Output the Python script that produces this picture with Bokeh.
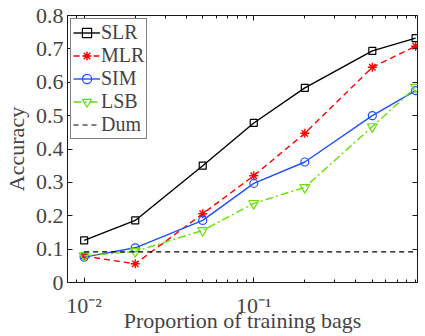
from bokeh.plotting import figure
from bokeh.models import (Range1d, LogAxis, LinearAxis, LogTicker, FixedTicker,
                          CustomJSTickFormatter, Legend)
from bokeh.embed import file_html
from bokeh.resources import INLINE

# ---- data ----
proportions = [0.01, 0.02, 0.05, 0.1, 0.2, 0.5, 0.9]
slr = [0.126, 0.186, 0.350, 0.478, 0.583, 0.694, 0.732]
mlr = [0.079, 0.056, 0.206, 0.320, 0.447, 0.645, 0.708]
sim = [0.076, 0.104, 0.186, 0.297, 0.361, 0.500, 0.575]
lsb = [0.080, 0.093, 0.156, 0.237, 0.285, 0.467, 0.585]
dum = [0.092, 0.092, 0.092, 0.092, 0.092, 0.092, 0.092]
y_ticks = [0, 0.1, 0.2, 0.3, 0.4, 0.5, 0.6, 0.7, 0.8]
x_label = "Proportion of training bags"
y_label = "Accuracy"

FONT = "Liberation Serif"
FS = "22px"

p = figure(width=425, height=336, x_axis_type="log",
           x_range=Range1d(0.007975, 0.9232), y_range=Range1d(0, 0.8),
           output_backend="svg", toolbar_location=None,
           min_border_left=60, min_border_right=8, min_border_top=15,
           min_border_bottom=54)
p.grid.visible = False
p.outline_line_color = "#1a1a1a"
p.outline_line_width = 1
p.background_fill_color = "white"
p.border_fill_color = "white"

xfmt = CustomJSTickFormatter(code="""
const e = Math.round(Math.log10(tick));
const sup = {"-": "\u207b", "0": "\u2070", "1": "\u00b9", "2": "\u00b2", "3": "\u00b3",
             "4": "\u2074", "5": "\u2075", "6": "\u2076", "7": "\u2077", "8": "\u2078", "9": "\u2079"};
return "10" + String(e).split("").map(c => sup[c]).join("");
""")
yfmt = CustomJSTickFormatter(code="return tick === 0 ? '0' : tick.toFixed(1);")
empty = CustomJSTickFormatter(code="return '';")

xticker = LogTicker(num_minor_ticks=10)
yticker = FixedTicker(ticks=y_ticks)

def style(ax):
    ax.axis_line_color = None
    ax.major_tick_in = 5
    ax.major_tick_out = 0
    ax.minor_tick_in = 3
    ax.minor_tick_out = 0
    ax.major_tick_line_color = "#1a1a1a"
    ax.minor_tick_line_color = "#1a1a1a"
    ax.major_label_text_font = FONT
    ax.axis_label_text_font = FONT
    ax.axis_label_text_font_style = "normal"
    ax.axis_label_text_font_size = FS
    ax.major_label_text_font_size = FS

xa = p.xaxis[0]
xa.ticker = xticker
xa.formatter = xfmt
style(xa)
xa.major_label_standoff = 10
xa.axis_label = x_label
xa.axis_label_standoff = -13

ya = p.yaxis[0]
ya.ticker = yticker
ya.formatter = yfmt
style(ya)
ya.major_label_standoff = 4
ya.axis_label = y_label
ya.axis_label_standoff = 4

top = LogAxis(ticker=xticker, formatter=empty)
style(top)
top.major_label_text_font_size = "0px"
top.major_label_standoff = 0
p.add_layout(top, "above")

right = LinearAxis(ticker=yticker, formatter=empty)
style(right)
right.minor_tick_in = 0
right.major_label_text_font_size = "0px"
right.major_label_standoff = 0
p.add_layout(right, "right")

# ---- series ----
r1 = p.line(proportions, slr, line_color="black", line_width=1.4)
s1 = p.scatter(proportions, slr, marker="square", size=7, line_color="black",
               fill_color=None, line_width=1.2)
r2 = p.line(proportions, mlr, line_color="#ff0000", line_width=1.4, line_dash="6 4")
s2 = p.scatter(proportions, mlr, marker="asterisk", size=9, line_color="#ff0000",
               line_width=1.4)
r3 = p.line(proportions, sim, line_color="#1f4fff", line_width=1.4)
s3 = p.scatter(proportions, sim, marker="circle", size=8, line_color="#1f4fff",
               fill_color=None, line_width=1.2)
r4 = p.line(proportions, lsb, line_color="#66e000", line_width=1.4, line_dash="8 3 2 3")
s4 = p.scatter(proportions, lsb, marker="inverted_triangle", size=10,
               line_color="#66e000", fill_color=None, line_width=1.2)
r5 = p.line(proportions, dum, line_color="black", line_width=1.2, line_dash="5 4")

legend = Legend(items=[("SLR", [r1, s1]), ("MLR", [r2, s2]), ("SIM", [r3, s3]),
                       ("LSB", [r4, s4]), ("Dum", [r5])],
                location="top_left")
legend.label_text_font = FONT
legend.label_text_font_size = "20px"
legend.label_height = 23
legend.glyph_height = 23
legend.glyph_width = 27
legend.label_standoff = 1
legend.padding = 2
legend.spacing = 0
legend.margin = 3
legend.border_line_color = "black"
legend.border_line_width = 1
legend.background_fill_color = "white"
legend.background_fill_alpha = 1
p.add_layout(legend)

open("out.html", "w").write(file_html(p, INLINE))
